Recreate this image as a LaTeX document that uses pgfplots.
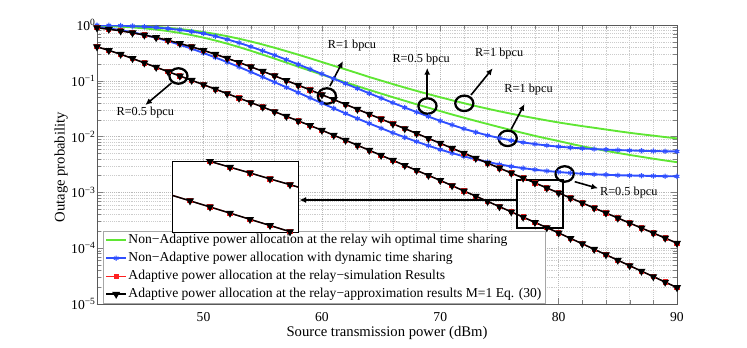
\documentclass[border=0pt]{standalone}
\usepackage{fontspec}
\setmainfont{Liberation Serif}
\usepackage{pgfplots}
\usepackage{pgfplotstable}
\pgfplotsset{compat=1.18}
\usetikzlibrary{arrows.meta}
\definecolor{MGreen}{HTML}{5FE633}
\definecolor{MBlue}{HTML}{2F4FFF}
\definecolor{MRed}{HTML}{FF2020}

% gu/gl: non-adaptive, optimal TS (R=1 / R=0.5)
% bu/bl: non-adaptive, dynamic TS (R=1 / R=0.5)
% kb/kl: adaptive (R=1 / R=0.5)
\pgfplotstableread{
x gu gl bu bl kb kl
41 0.995 0.966 0.993 0.923 0.891 0.407
42 0.991 0.953 0.986 0.871 0.841 0.351
43 0.982 0.933 0.975 0.809 0.785 0.299
44 0.968 0.906 0.957 0.740 0.724 0.251
45 0.948 0.871 0.933 0.665 0.661 0.209
46 0.923 0.828 0.902 0.589 0.596 0.175
47 0.889 0.778 0.863 0.514 0.531 0.146
48 0.849 0.721 0.817 0.443 0.468 0.122
49 0.802 0.659 0.764 0.376 0.407 0.102
50 0.748 0.594 0.705 0.315 0.351 0.0851
51 0.690 0.528 0.630 0.262 0.299 0.0708
52 0.630 0.463 0.553 0.216 0.253 0.0589
53 0.568 0.402 0.479 0.177 0.213 0.0490
54 0.506 0.345 0.408 0.144 0.178 0.0407
55 0.447 0.294 0.344 0.117 0.148 0.0339
56 0.391 0.250 0.288 0.0946 0.123 0.0280
57 0.340 0.212 0.239 0.0764 0.101 0.0231
58 0.294 0.179 0.197 0.0615 0.0836 0.0191
59 0.253 0.152 0.162 0.0494 0.0687 0.0158
60 0.217 0.129 0.133 0.0397 0.0564 0.0130
61 0.186 0.110 0.109 0.0321 0.0461 0.0106
62 0.160 0.0938 0.0891 0.0260 0.0378 0.00861
63 0.137 0.0802 0.0729 0.0211 0.0309 0.00700
64 0.117 0.0687 0.0597 0.01725 0.0253 0.00569
65 0.101 0.0590 0.0490 0.01415 0.0207 0.00462
66 0.0873 0.0508 0.0403 0.01167 0.0169 0.00376
67 0.0757 0.0439 0.0332 0.00970 0.0139 0.00305
68 0.0659 0.0379 0.0275 0.00812 0.0114 0.00248
69 0.0577 0.0329 0.0229 0.00687 0.00929 0.00202
70 0.0507 0.0286 0.0191 0.00586 0.00760 0.00164
71 0.0448 0.0249 0.0162 0.00506 0.00619 0.00132
72 0.0397 0.0218 0.0138 0.00442 0.00505 0.00106
73 0.0353 0.0191 0.0120 0.00391 0.00411 0.000857
74 0.0316 0.0168 0.0105 0.00351 0.00335 0.000690
75 0.0284 0.0148 0.00942 0.00318 0.00273 0.000556
76 0.0257 0.0131 0.00855 0.00292 0.00222 0.000448
77 0.0233 0.0116 0.00787 0.00272 0.00181 0.000361
78 0.0213 0.0103 0.00735 0.00255 0.00148 0.000290
79 0.0195 0.00925 0.00693 0.00242 0.00120 0.000234
80 0.0179 0.00832 0.00661 0.00232 0.000980 0.000188
81 0.0166 0.00745 0.00635 0.00223 0.000796 0.000150
82 0.0154 0.00671 0.00615 0.00216 0.000647 0.000120
83 0.0144 0.00610 0.00598 0.00211 0.000526 0.0000957
84 0.0134 0.00556 0.00585 0.00207 0.000428 0.0000764
85 0.0125 0.00509 0.00574 0.00203 0.000348 0.0000610
86 0.0117 0.00469 0.00565 0.00201 0.000282 0.0000486
87 0.0110 0.00434 0.00557 0.00199 0.000230 0.0000388
88 0.0104 0.00402 0.00551 0.00197 0.000187 0.0000310
89 0.0098 0.00373 0.00546 0.00195 0.000152 0.0000247
90 0.0093 0.00348 0.00541 0.00194 0.000123 0.0000197
}\outage

\pgfplotsset{
  greenline/.style={color=MGreen, line width=1.4pt, mark=none},
  blueline/.style={color=MBlue, line width=1.4pt, mark=asterisk, mark size=2pt, mark options={line width=0.8pt}},
  redline/.style={color=MRed, line width=0.9pt, mark=square*, mark size=1.5pt},
  blackline/.style={color=black, line width=1.1pt, mark=triangle*, mark size=2.4pt, mark options={rotate=180}},
}

\begin{document}
\begin{tikzpicture}
\useasboundingbox (0,0) rectangle (560.25pt,260.25pt);
\begin{axis}[
  at={(72.75pt,32.25pt)}, anchor=south west,
  scale only axis, width=435pt, height=209.25pt,
  xmin=41, xmax=90,
  ymode=log, ymin=1e-5, ymax=1,
  xtick={50,60,70,80,90},
  ytick={1e-5,1e-4,1e-3,1e-2,1e-1,1},
  yticklabels={10\textsuperscript{−5},10\textsuperscript{−4},10\textsuperscript{−3},10\textsuperscript{−2},10\textsuperscript{−1},10\textsuperscript{0}},
  minor x tick num=4,
  /pgf/number format/assume math mode=true,
  tick label style={font=\fontsize{10.2}{12}\selectfont},
  xticklabel style={inner sep=1pt, yshift=-5.3pt},
  yticklabel style={xshift=2.5pt},
  label style={font=\fontsize{11}{13}\selectfont},
  xlabel={Source transmission power (dBm)},
  ylabel={Outage probability},
  xlabel style={at={(axis description cs:0.5,-0.0775)}, anchor=north, inner sep=0pt},
  ylabel style={at={(axis description cs:-0.062,0.49)}, anchor=center},
  grid=both,
  major grid style={densely dotted, gray!55},
  minor grid style={densely dotted, gray!40},
  axis line style={gray!70!black},
  legend cell align=left,
  legend image code/.code={\draw[mark repeat=2,mark phase=2,#1] plot coordinates {(0pt,0pt) (7.5pt,0pt) (15pt,0pt)};},
  legend style={at={(0.0103,0.002)}, anchor=south west, draw=gray!70, fill=white,
    font=\fontsize{10.2}{12}\selectfont, inner xsep=1.5pt, inner ysep=0pt,
    nodes={inner xsep=1pt, inner ysep=1.5pt, text height=8pt, text depth=2.5pt}},
]
\addplot[greenline] table[x=x,y=gu] {\outage};
\addplot[greenline, forget plot] table[x=x,y=gl] {\outage};
\addplot[blueline] table[x=x,y=bu] {\outage};
\addplot[blueline, forget plot] table[x=x,y=bl] {\outage};
\addplot[redline] table[x=x,y=kb] {\outage};
\addplot[redline, forget plot] table[x=x,y=kl] {\outage};
\addplot[blackline] table[x=x,y=kb] {\outage};
\addplot[blackline, forget plot] table[x=x,y=kl] {\outage};
\legend{Non−Adaptive power allocation at the relay wih optimal time sharing,
  Non−Adaptive power allocation with dynamic time sharing,
  Adaptive power allocation at the relay−simulation Results,
  Adaptive power allocation at the relay−approximation results M=1 Eq. (30)}

% annotations
\begin{scope}[line width=1.7pt]
\draw (axis cs:47.88,0.122) ellipse [x radius=6.8pt, y radius=5.8pt];
\draw (axis cs:60.42,0.0534) ellipse [x radius=6.8pt, y radius=5.8pt];
\draw (axis cs:68.92,0.0353) ellipse [x radius=6.8pt, y radius=5.8pt];
\draw (axis cs:72.03,0.0395) ellipse [x radius=6.8pt, y radius=5.8pt];
\draw (axis cs:75.70,0.00931) ellipse [x radius=6.8pt, y radius=5.8pt];
\draw (axis cs:80.51,0.00214) ellipse [x radius=6.8pt, y radius=5.8pt];
\draw (axis cs:76.5,0.001667) rectangle (axis cs:80.34,0.000230);
\end{scope}
\begin{scope}[line width=1.2pt, -{Latex[length=5pt,width=4.5pt]}]
\draw (axis cs:47.29,0.0914) -- (axis cs:45.08,0.0368);
\draw (axis cs:60.68,0.0807) -- (axis cs:61.78,0.226);
\draw (axis cs:68.9,0.0490) -- (axis cs:68.9,0.170);
\draw (axis cs:72.6,0.0557) -- (axis cs:74.43,0.1675);
\draw (axis cs:75.99,0.01349) -- (axis cs:77.12,0.0384);
\draw (axis cs:81.36,0.001556) -- (axis cs:83.33,0.001184);
\draw[line width=1.5pt] (axis cs:76.5,0.000731) -- (axis cs:58.1,0.000731);
\end{scope}
\begin{scope}[font=\fontsize{9.2}{11}\selectfont]
\node at (axis cs:45.08,0.0265) {R=0.5 bpcu};
\node at (axis cs:62.54,0.420) {R=1 bpcu};
\node at (axis cs:68.39,0.236) {R=0.5 bpcu};
\node at (axis cs:74.97,0.311) {R=1 bpcu};
\node at (axis cs:77.46,0.0684) {R=1 bpcu};
\node at (axis cs:85.93,0.000989) {R=0.5 bpcu};
\end{scope}
\end{axis}

% inset
\begin{axis}[
  at={(129pt,86.25pt)}, anchor=south west,
  scale only axis, width=94.5pt, height=53.25pt,
  xmin=74.1, xmax=80.4,
  ymode=log, ymin=1.86e-4, ymax=2.25e-3,
  ticks=none,
  axis line style={black, line width=0.6pt},
  axis background/.style={fill=white},
]
\addplot[redline] table[x=x,y=kb] {\outage};
\addplot[redline] table[x=x,y=kl] {\outage};
\addplot[blackline] table[x=x,y=kb] {\outage};
\addplot[blackline] table[x=x,y=kl] {\outage};
\end{axis}
\end{tikzpicture}
\end{document}
